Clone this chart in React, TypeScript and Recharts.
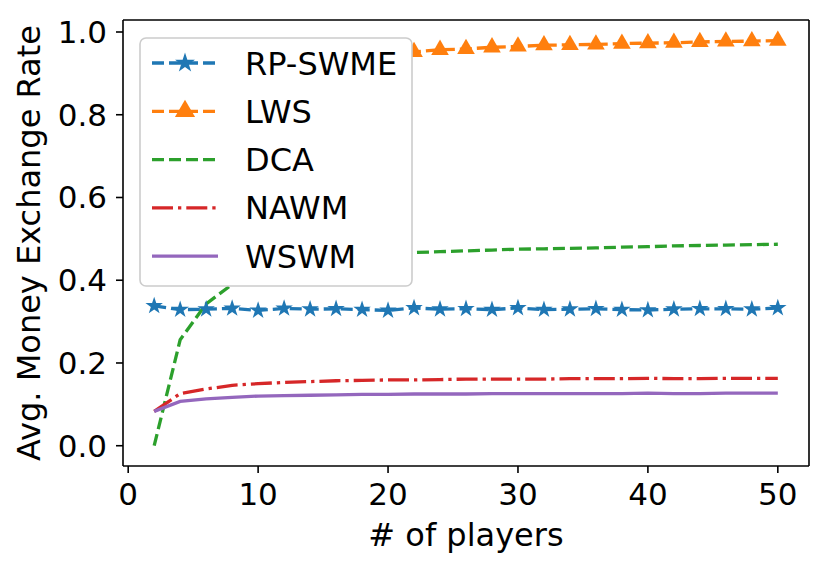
import { LineChart, Line, XAxis, YAxis, Legend, Symbols } from 'recharts'

// number of players on the x axis
const players = [2, 4, 6, 8, 10, 12, 14, 16, 18, 20, 22, 24, 26, 28, 30, 32, 34, 36, 38, 40, 42, 44, 46, 48, 50]

// average money exchange rate per method
const rpSwme = [0.338, 0.329, 0.33, 0.332, 0.327, 0.332, 0.33, 0.331, 0.329, 0.327, 0.333, 0.33, 0.331, 0.329, 0.333, 0.329, 0.33, 0.331, 0.329, 0.328, 0.33, 0.331, 0.331, 0.33, 0.333]
const lws = [0.8, 0.87, 0.9, 0.915, 0.925, 0.932, 0.938, 0.942, 0.946, 0.949, 0.952, 0.957, 0.959, 0.963, 0.965, 0.968, 0.969, 0.97, 0.972, 0.973, 0.974, 0.976, 0.977, 0.978, 0.979]
const dca = [0.0, 0.256, 0.343, 0.39, 0.41, 0.425, 0.437, 0.446, 0.454, 0.461, 0.467, 0.469, 0.471, 0.473, 0.475, 0.476, 0.477, 0.478, 0.48, 0.481, 0.483, 0.484, 0.485, 0.486, 0.487]
const nawm = [0.083, 0.126, 0.137, 0.146, 0.15, 0.153, 0.155, 0.157, 0.158, 0.159, 0.159, 0.16, 0.161, 0.161, 0.161, 0.161, 0.162, 0.162, 0.162, 0.163, 0.162, 0.162, 0.163, 0.163, 0.163]
const wswm = [0.083, 0.107, 0.113, 0.117, 0.12, 0.121, 0.122, 0.123, 0.124, 0.124, 0.125, 0.125, 0.125, 0.126, 0.126, 0.126, 0.126, 0.126, 0.126, 0.127, 0.126, 0.126, 0.127, 0.127, 0.127]

const xTicks = [0, 10, 20, 30, 40, 50]
const yTicks = [0, 0.2, 0.4, 0.6, 0.8, 1.0]

const FONT = '"DejaVu Sans", sans-serif'
const LW = 3.3

type SeriesDef = {
  key: string
  name: string
  color: string
  dash?: string
  marker?: 'star' | 'triangle'
}

const SERIES: SeriesDef[] = [
  { key: 'rpSwme', name: 'RP-SWME', color: '#1f77b4', dash: '12 5', marker: 'star' },
  { key: 'lws', name: 'LWS', color: '#ff7f0e', dash: '12 5', marker: 'triangle' },
  { key: 'dca', name: 'DCA', color: '#2ca02c', dash: '12 5' },
  { key: 'nawm', name: 'NAWM', color: '#d62728', dash: '21 5 3.3 5' },
  { key: 'wswm', name: 'WSWM', color: '#9467bd' },
]

const data = players.map((p, i) => ({
  players: p,
  rpSwme: rpSwme[i],
  lws: lws[i],
  dca: dca[i],
  nawm: nawm[i],
  wswm: wswm[i],
}))

function markerSize(marker: 'star' | 'triangle') {
  return marker === 'star' ? 95 : 135
}

function makeDot(s: SeriesDef) {
  if (!s.marker) return false
  return (props: any) => (
    <Symbols
      key={`${s.key}-${props.index}`}
      cx={props.cx}
      cy={props.cy}
      type={s.marker}
      size={markerSize(s.marker!)}
      fill={s.color}
      stroke="none"
    />
  )
}

function LegendBox() {
  return (
    <svg width={274} height={250} style={{ display: 'block' }}>
      <rect x={1} y={1} width={272} height={248} rx={6} ry={6} fill="#fff" stroke="#cccccc" strokeWidth={1.6} />
      {SERIES.map((s, i) => {
        const y = 26 + i * 48.3
        return (
          <g key={s.key}>
            <line x1={13} x2={79} y1={y} y2={y} stroke={s.color} strokeWidth={LW} strokeDasharray={s.dash} />
            {s.marker && <Symbols cx={46} cy={y} type={s.marker} size={markerSize(s.marker) * 1.3} fill={s.color} />}
            <text x={106} y={y + 11.5} fontSize={32} fontFamily={FONT} fill="#000">
              {s.name}
            </text>
          </g>
        )
      })}
    </svg>
  )
}

const tickStyle = { fontSize: 31, fontFamily: FONT, fill: '#000' }
const axisLine = { stroke: '#000', strokeWidth: 1.6 }

export default function App() {
  return (
    <div style={{ position: 'absolute', left: 0, top: 0, width: 830, height: 568, background: '#fff' }}>
      <LineChart width={830} height={568} data={data} margin={{ top: 19, right: 20, bottom: 0, left: 0 }}>
        <XAxis
          dataKey="players"
          type="number"
          domain={[-0.4, 52.4]}
          ticks={xTicks}
          allowDataOverflow
          height={102}
          tickSize={7}
          tickMargin={10}
          tick={tickStyle}
          axisLine={axisLine}
          tickLine={axisLine}
          label={({ viewBox }: any) => (
            <text x={viewBox.x + viewBox.width / 2} y={546} textAnchor="middle" fontSize={32} fontFamily={FONT} fill="#000">
              # of players
            </text>
          )}
        />
        <XAxis
          xAxisId="top"
          orientation="top"
          dataKey="players"
          type="number"
          domain={[-0.4, 52.4]}
          height={1}
          tick={false}
          tickLine={false}
          axisLine={axisLine}
        />
        <YAxis
          type="number"
          domain={[-0.049, 1.029]}
          ticks={yTicks}
          allowDataOverflow
          width={123}
          tickSize={7}
          tickMargin={9}
          tick={tickStyle}
          tickFormatter={(v: number) => v.toFixed(1)}
          axisLine={axisLine}
          tickLine={axisLine}
          label={({ viewBox }: any) => {
            const cy = viewBox.y + viewBox.height / 2
            return (
              <text
                x={40}
                y={cy}
                transform={`rotate(-90 40 ${cy})`}
                textAnchor="middle"
                fontSize={32}
                fontFamily={FONT}
                fill="#000"
              >
                Avg. Money Exchange Rate
              </text>
            )
          }}
        />
        <YAxis
          yAxisId="right"
          orientation="right"
          type="number"
          domain={[-0.049, 1.029]}
          width={1}
          tick={false}
          tickLine={false}
          axisLine={axisLine}
        />
        {SERIES.map((s) => (
          <Line
            key={s.key}
            type="linear"
            dataKey={s.key}
            name={s.name}
            stroke={s.color}
            strokeWidth={LW}
            strokeDasharray={s.dash}
            dot={makeDot(s)}
            activeDot={false}
            isAnimationActive={false}
          />
        ))}
        <Legend
          layout="vertical"
          align="center"
          verticalAlign="middle"
          content={() => <LegendBox />}
          wrapperStyle={{ position: 'absolute', left: 139, top: 37, width: 274, height: 250, margin: 0 }}
        />
      </LineChart>
    </div>
  )
}
